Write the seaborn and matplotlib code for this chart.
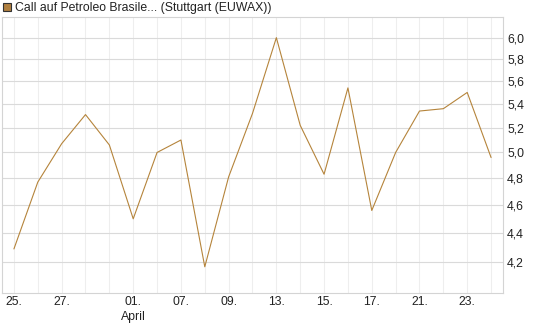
import matplotlib
matplotlib.use("Agg")
import matplotlib.pyplot as plt
from matplotlib.ticker import FixedLocator, FixedFormatter, NullLocator
from matplotlib.patches import Rectangle
import seaborn as sns
import pandas as pd

# Data
day_labels = ["25.", "", "27.", "", "", "01.", "", "07.", "", "09.", "", "13.", "",
              "15.", "", "17.", "", "21.", "", "23.", ""]
values = [4.29, 4.77, 5.07, 5.31, 5.06, 4.50, 5.00, 5.10, 4.17, 4.81, 5.32,
          6.00, 5.22, 4.83, 5.54, 4.56, 5.00, 5.34, 5.36, 5.50, 4.96]
y_ticks = [4.2, 4.4, 4.6, 4.8, 5.0, 5.2, 5.4, 5.6, 5.8, 6.0]
y_tick_labels = ["4,2", "4,4", "4,6", "4,8", "5,0", "5,2", "5,4", "5,6", "5,8", "6,0"]
legend_label = "Call auf Petroleo Brasile... (Stuttgart (EUWAX))"
month_label = "April"

sns.set_style("white")
plt.rcParams['font.family'] = ['Liberation Sans', 'DejaVu Sans']

FS = 8.8

df = pd.DataFrame({"idx": range(len(values)), "value": values})

fig = plt.figure(figsize=(5.45, 3.27), dpi=100)
ax = fig.add_axes([2/545, 1 - 293/327, (503 - 2)/545, (293 - 17)/327])

line_color = "#b5843b"
sns.lineplot(data=df, x="idx", y="value", ax=ax, color=line_color, linewidth=0.8)

ax.set_yscale("log")
ax.set_ylim(4.0, 6.2)
ax.set_xlim(-0.5, len(values) - 0.5)

ax.yaxis.set_major_locator(FixedLocator(y_ticks))
ax.yaxis.set_major_formatter(FixedFormatter(y_tick_labels))
ax.yaxis.set_minor_locator(NullLocator())
ax.yaxis.tick_right()
ax.tick_params(axis="y", which="major", length=0, pad=3, labelsize=FS, colors="#222222")

major_x = [i for i, l in enumerate(day_labels) if l]
minor_x = [i for i, l in enumerate(day_labels) if not l]
ax.set_xticks(major_x)
ax.set_xticklabels([day_labels[i] for i in major_x])
ax.set_xticks(minor_x, minor=True)
ax.tick_params(axis="x", which="major", length=0, pad=2, labelsize=FS, colors="#222222")
ax.tick_params(axis="x", which="minor", length=2, color="#dddddd", width=0.8)

# grid
for i in range(len(values)):
    ax.axvline(i, color="#eeeeee", linewidth=0.8, zorder=0)
ax.grid(axis="y", which="major", color="#dadada", linewidth=0.8)
ax.set_axisbelow(True)

for s in ax.spines.values():
    s.set_visible(True)
    s.set_color("#d4d4d4")
    s.set_linewidth(0.8)

ax.set_xlabel("")
ax.set_ylabel("")

# Month label under "01."
ax.text(5, -0.065, month_label, transform=ax.get_xaxis_transform(),
        ha="center", va="top", fontsize=FS, color="#222222")

# Legend-like title
fig.patches.append(Rectangle((3/545, 1 - 11/327), 8/545, 8/327, transform=fig.transFigure,
                             facecolor="#b08040", edgecolor="#333333", linewidth=0.8))
fig.text(15/545, 1 - 7.5/327, legend_label, ha="left", va="center",
         fontsize=FS, color="#222222")

fig.savefig("out.png", dpi=100)
